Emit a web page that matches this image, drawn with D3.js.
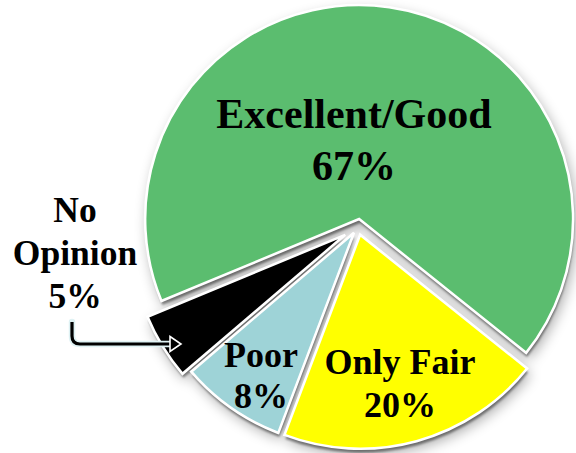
<!DOCTYPE html>
<html><head><meta charset="utf-8">
<script src="https://cdn.jsdelivr.net/npm/d3@7"></script>
<style>html,body{margin:0;padding:0;background:#fff;} svg{display:block}</style>
</head><body>
<svg id="chart" width="576" height="453"></svg>
<script>
// ---- data ----
const categories = ["Excellent/Good", "Only Fair", "Poor", "No Opinion"];
const values = [67, 20, 8, 5];
const labelNames = [["Excellent/Good"], ["Only Fair"], ["Poor"], ["No", "Opinion"]];

// ---- style / layout ----
const colors = ["#5bbd6f", "#ffff00", "#9ed3d7", "#000000"];
const explode = [8, 8, 7, 15];
const cx = 358, cy = 227, R = 214;
const startDeg = -112.5;
const labelLayout = [
  {x: 354, y: 128, size: 42, lh: 52},
  {x: 400, y: 374, size: 36, lh: 43},
  {x: 261, y: 367, size: 36, lh: 41},
  {x: 75,  y: 222, size: 35.5, lh: 43}
];

const svg = d3.select("#chart");
const defs = svg.append("defs");
const f = defs.append("filter").attr("id", "sh")
  .attr("x", "-30%").attr("y", "-30%").attr("width", "160%").attr("height", "160%");
f.append("feGaussianBlur").attr("in", "SourceAlpha").attr("stdDeviation", 7).attr("result", "b");
f.append("feOffset").attr("in", "b").attr("dx", 3).attr("dy", 6).attr("result", "ob");
f.append("feComponentTransfer").attr("in", "ob").attr("result", "s1")
  .append("feFuncA").attr("type", "linear").attr("slope", 0.35);
f.append("feGaussianBlur").attr("in", "SourceAlpha").attr("stdDeviation", 0.8).attr("result", "b2");
f.append("feOffset").attr("in", "b2").attr("dx", 1).attr("dy", 4).attr("result", "ob2");
f.append("feComponentTransfer").attr("in", "ob2").attr("result", "s2")
  .append("feFuncA").attr("type", "linear").attr("slope", 0.42);
const m = f.append("feMerge");
m.append("feMergeNode").attr("in", "s1");
m.append("feMergeNode").attr("in", "s2");

const pie = d3.pie().sort(null).value(d => d)
  .startAngle(startDeg * Math.PI / 180)
  .endAngle((startDeg + 360) * Math.PI / 180);
const arcs = pie(values);
const arc = d3.arc().innerRadius(0).outerRadius(R);
function off(a, i) {
  const mid = (a.startAngle + a.endAngle) / 2;
  return [explode[i] * Math.sin(mid), -explode[i] * Math.cos(mid)];
}

const g = svg.append("g").attr("transform", `translate(${cx},${cy})`);
// shadows
g.append("g").attr("filter", "url(#sh)")
  .selectAll("path").data(arcs).join("path")
  .attr("transform", (d, i) => `translate(${off(d, i)})`)
  .attr("d", arc).attr("fill", "#000");
// slices
g.append("g").selectAll("path").data(arcs).join("path")
  .attr("transform", (d, i) => `translate(${off(d, i)})`)
  .attr("d", arc)
  .attr("fill", (d, i) => colors[i])
  .attr("stroke", "#fff").attr("stroke-width", 2.6).attr("stroke-linejoin", "miter");

// arrow for No Opinion
const arrowPath = "M72,322 L72,336 Q72,344 80,344 L172,344";
svg.append("path").attr("d", arrowPath).attr("fill", "none")
  .attr("stroke", "#dff2f4").attr("stroke-width", 6.5).attr("stroke-linecap", "round");
svg.append("path").attr("d", arrowPath).attr("fill", "none")
  .attr("stroke", "#000").attr("stroke-width", 3.2);
svg.append("path").attr("d", "M170,336.5 L181,344 L170,351.5 Z")
  .attr("fill", "#000").attr("stroke", "#fff").attr("stroke-width", 1.6).attr("stroke-linejoin", "miter");

// labels
const fmt = v => v + "%";
labelNames.forEach((lines, i) => {
  const L = labelLayout[i];
  const t = svg.append("text")
    .attr("text-anchor", "middle")
    .attr("font-family", "'Liberation Serif','Times New Roman',serif")
    .attr("font-weight", "bold")
    .attr("font-size", L.size)
    .attr("fill", "#000");
  lines.concat([fmt(values[i])]).forEach((s, k) => {
    t.append("tspan").attr("x", L.x).attr("y", L.y + k * L.lh).text(s);
  });
});
</script>
</body></html>
